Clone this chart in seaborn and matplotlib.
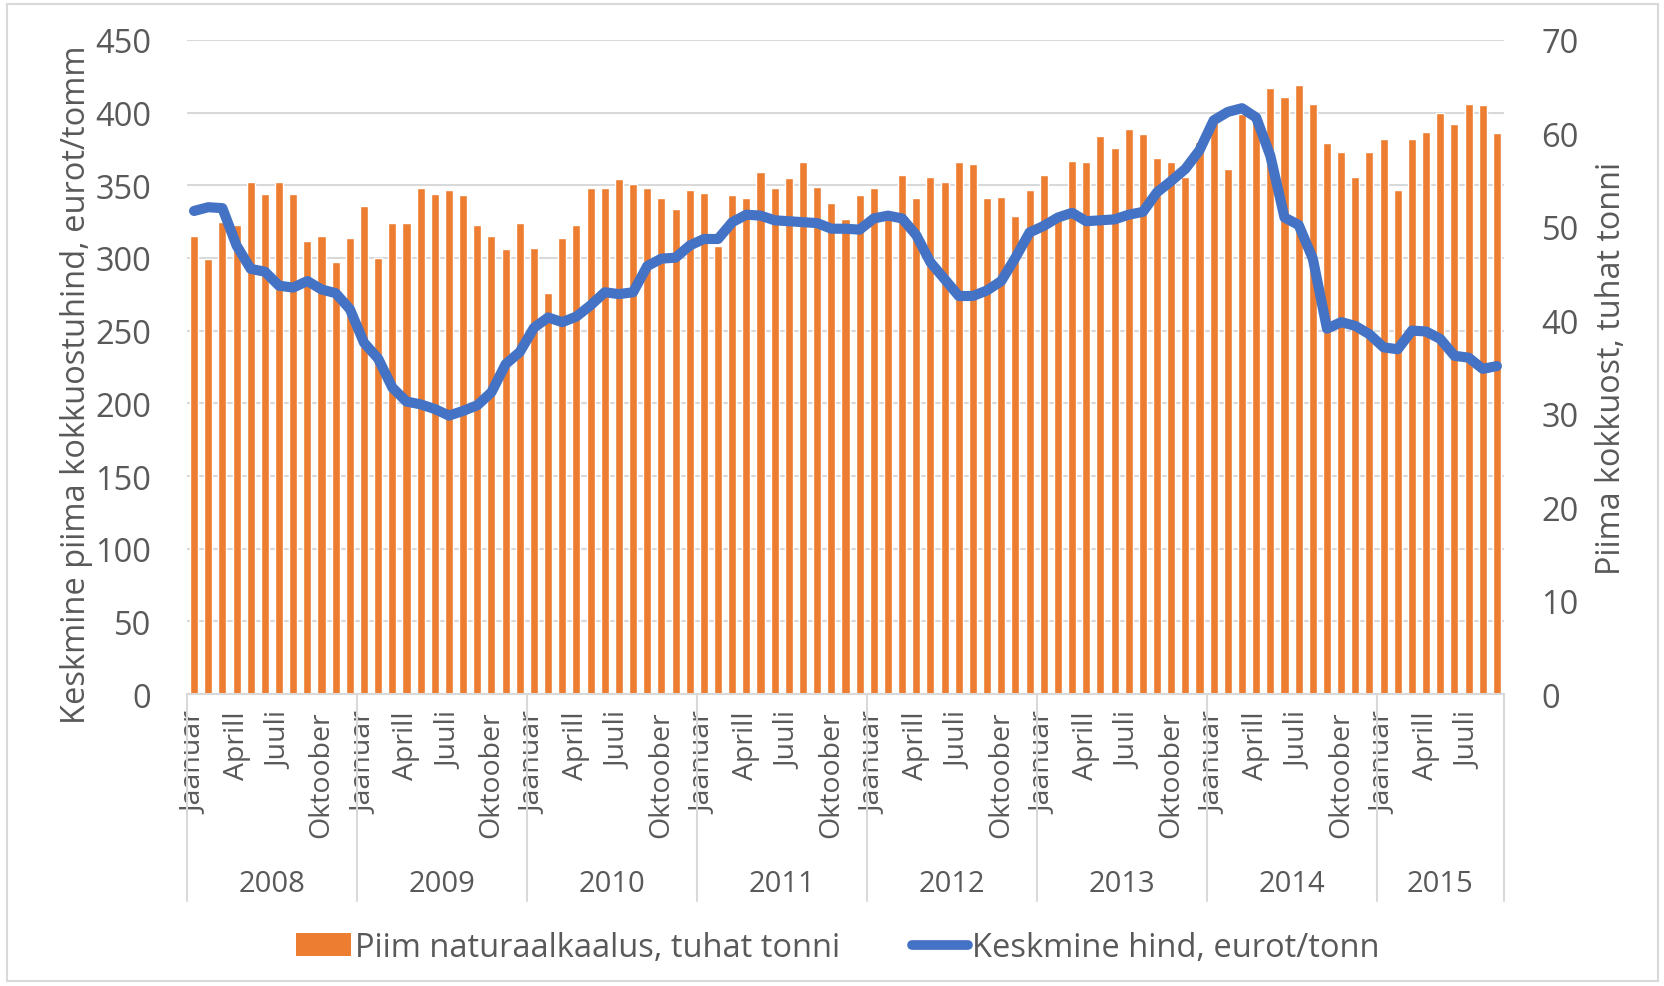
import matplotlib
matplotlib.use("Agg")
import matplotlib.pyplot as plt
import matplotlib.transforms as mtransforms
from matplotlib.patches import Patch, Rectangle
from matplotlib.lines import Line2D
import seaborn as sns
import pandas as pd

# monthly data, Jan 2008 .. Sep 2015
years = ['2008', '2009', '2010', '2011', '2012', '2013', '2014', '2015']
months_per_year = [12, 12, 12, 12, 12, 12, 12, 9]
month_names = ['Jaanuar', 'Aprill', 'Juuli', 'Oktoober']  # shown for month 0, 3, 6, 9

volume = [315, 299, 325, 323, 352, 344, 352, 344, 312, 315, 297, 314,
          336, 300, 324, 324, 348, 344, 347, 343, 323, 315, 306, 324,
          307, 276, 314, 323, 348, 348, 354, 351, 348, 341, 334, 347,
          345, 308, 343, 341, 359, 348, 355, 366, 349, 338, 327, 343,
          348, 328, 357, 341, 356, 352, 366, 365, 341, 342, 329, 347,
          357, 327, 367, 366, 384, 376, 389, 385, 369, 366, 356, 380,
          394, 361, 399, 398, 417, 411, 419, 406, 379, 373, 356, 373,
          382, 347, 382, 387, 400, 392, 406, 405, 386]

price = [51.7, 52.1, 52.0, 48.0, 45.5, 45.2, 43.7, 43.5, 44.2, 43.3, 42.9, 41.2,
         37.6, 35.9, 32.8, 31.3, 31.0, 30.5, 29.8, 30.3, 30.9, 32.3, 35.3, 36.6,
         39.2, 40.3, 39.8, 40.4, 41.6, 43.0, 42.8, 43.0, 45.8, 46.6, 46.7, 48.0,
         48.7, 48.7, 50.5, 51.3, 51.2, 50.7, 50.6, 50.5, 50.4, 49.8, 49.8, 49.7,
         50.9, 51.2, 50.9, 49.1, 46.2, 44.4, 42.6, 42.6, 43.2, 44.2, 46.7, 49.4,
         50.1, 51.0, 51.5, 50.6, 50.7, 50.8, 51.3, 51.6, 53.7, 54.9, 56.2, 58.2,
         61.4, 62.3, 62.7, 61.7, 57.6, 51.0, 50.2, 46.6, 39.1, 39.8, 39.4, 38.5,
         37.1, 36.9, 38.9, 38.8, 38.0, 36.2, 36.0, 34.8, 35.1]

bar_label = 'Piim naturaalkaalus, tuhat tonni'
line_label = 'Keskmine hind, eurot/tonn'
left_title = 'Keskmine piima kokkuostuhind, eurot/tomm'
right_title = 'Piima kokkuost, tuhat tonni'

ORANGE = '#ED7D31'
BLUE = '#4472C4'
TXT = '#595959'
GRID = '#D9D9D9'

df = pd.DataFrame({'idx': range(len(volume)), 'volume': volume, 'price': price})

sns.set_theme(style='white')
plt.rcParams['font.family'] = ['Open Sans', 'DejaVu Sans']

fig = plt.figure(figsize=(16.65, 9.87), dpi=100)
ax = fig.add_axes([0.1123, 0.2958, 0.791, 0.6627])
ax2 = ax.twinx()

sns.barplot(data=df, x='idx', y='volume', color=ORANGE, saturation=1,
            width=0.57, ax=ax, zorder=2)
sns.lineplot(data=df, x='idx', y='price', color=BLUE, lw=7.3, ax=ax2,
             solid_capstyle='round', solid_joinstyle='round')

n = len(volume)
ax.set_xlim(-0.5, n - 0.5)
ax2.set_xlim(-0.5, n - 0.5)
ax.set_ylim(0, 450)
ax2.set_ylim(0, 70)
ax.set_yticks(range(0, 451, 50))
ax2.set_yticks(range(0, 71, 10))

ax.grid(axis='y', color=GRID, lw=1.5)
ax.set_axisbelow(True)
ax.grid(axis='x', visible=False)

# month ticks
ticks, labels = [], []
start = 0
for cnt in months_per_year:
    for k, name in zip([0, 3, 6, 9], month_names):
        if k < cnt:
            ticks.append(start + k)
            labels.append(name)
    start += cnt
ax.set_xticks(ticks)
ax.set_xticklabels(labels, rotation=90, va='top', ha='center')
ax.tick_params(axis='x', length=0, pad=12, labelsize=20.5, labelcolor=TXT)
ax.tick_params(axis='y', length=0, pad=26, labelsize=23.5, labelcolor=TXT)
ax2.tick_params(axis='y', length=0, pad=27, labelsize=23.5, labelcolor=TXT)

ax.set_xlabel('')
ax.set_ylabel(left_title, fontsize=23.5, color=TXT)
ax.yaxis.set_label_coords(-0.071, 0.474)
ax2.set_xlabel('')
ax2.set_ylabel(right_title, fontsize=23.3, color=TXT)
ax2.yaxis.set_label_coords(1.069, 0.5)

for a in (ax, ax2):
    for s in a.spines.values():
        s.set_visible(False)
ax.spines['bottom'].set_visible(True)
ax.spines['bottom'].set_color(GRID)
ax.spines['bottom'].set_linewidth(1.5)

# year groups under the month labels
trans = mtransforms.blended_transform_factory(ax.transData, ax.transAxes)
start = 0
bounds = [-0.5]
for yr, cnt in zip(years, months_per_year):
    ax.text(start + (cnt - 1) / 2, -0.29, yr, transform=trans, ha='center',
            va='center', fontsize=21, color=TXT)
    start += cnt
    bounds.append(start - 0.5)
for b in bounds:
    ax.plot([b, b], [0, -0.3165], transform=trans, color=GRID, lw=1.5,
            clip_on=False)

handles = [Patch(facecolor=ORANGE, edgecolor='none'),
           Line2D([0], [0], color=BLUE, lw=7, solid_capstyle='round')]
fig.legend(handles, [bar_label, line_label], loc='center',
           bbox_to_anchor=(0.503, 0.039), ncol=2, frameon=False, fontsize=23.5,
           labelcolor=TXT, handlelength=1.7, handleheight=0.7,
           handletextpad=0.12, columnspacing=2.2)

fig.patches.append(Rectangle((0.004, 0.005), 0.992, 0.99, transform=fig.transFigure,
                             fill=False, edgecolor=GRID, lw=1.5))

fig.savefig('out.png', dpi=100)
